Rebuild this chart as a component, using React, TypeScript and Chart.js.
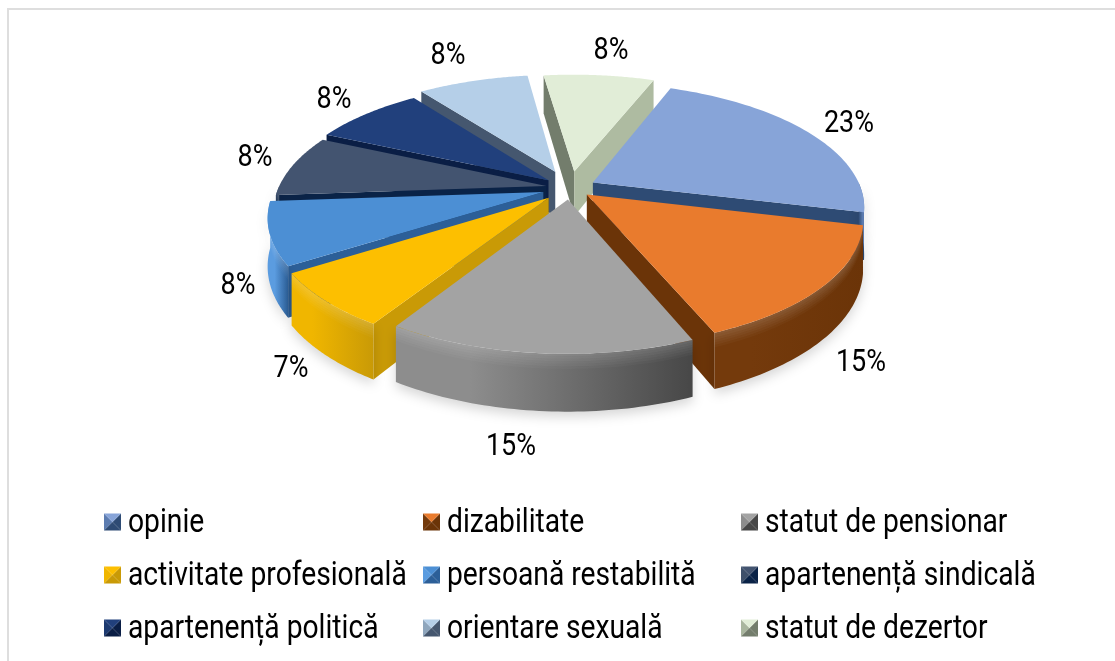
import React, { useEffect, useRef } from "react";
import { Chart, registerables } from "chart.js";

Chart.register(...registerables);

const categories = [
  "opinie",
  "dizabilitate",
  "statut de pensionar",
  "activitate profesională",
  "persoană restabilită",
  "apartenență sindicală",
  "apartenență politică",
  "orientare sexuală",
  "statut de dezertor",
];
const shares = [23, 15, 15, 7, 8, 8, 8, 8, 8];
const explode = [26, 22, 25, 30, 28, 24, 28, 40, 38];
const topColors = ["#87a4d8", "#e97b2d", "#a3a3a3", "#fdbf00", "#4c8fd4", "#435470", "#21407c", "#b5cfe8", "#e1edd7"];
const wallLight = ["#5c7cb0", "#743a0c", "#8d8d8d", "#f0b600", "#5b9ce0", "#3e506a", "#1d3a70", "#8fa6bd", "#a9b69e"];
const wallDark = ["#2e4b74", "#6b3408", "#474747", "#c99a06", "#2c5f98", "#0a2347", "#0a1e45", "#45576f", "#737d6c"];
const endWall = ["#2e4b74", "#6b3408", "#474747", "#c99a06", "#20497a", "#0a2347", "#0a1e45", "#45576f", "#aebba1"];
const labelPos = [
  [849, 124],
  [861, 363],
  [511, 447],
  [291, 369],
  [238, 286],
  [255, 158],
  [334, 100],
  [448, 56],
  [611, 51],
];
const legendCols = [104, 423, 741];
const legendRows = [522, 575, 628];

const CX = 570;
const CY = 188;
const R = 268;
const K = 0.45;
const P = 0.0007;
const DEPTH = 46;
const FAMILY = 'Roboto, "Liberation Sans", sans-serif';

function project(x: number, y: number, z: number): [number, number] {
  const f = 1 / (1 - y * P);
  return [CX + x * f, CY + y * K * f + z * f];
}

const pie3d = {
  id: "pie3d",
  beforeDatasetDraw(chart: any) {
    const ctx = chart.ctx;
    const meta = chart.getDatasetMeta(0);
    const items = meta.data.map((arc: any, i: number) => {
      const a0 = arc.startAngle + Math.PI / 2;
      const a1 = arc.endAngle + Math.PI / 2;
      const mid = (a0 + a1) / 2;
      const off = arc.options.offset;
      return { i, a0, a1, mid, ox: Math.sin(mid) * off, oy: -Math.cos(mid) * off };
    });
    items.sort((a: any, b: any) => -Math.cos(a.mid) - -Math.cos(b.mid));

    for (const s of items) {
      const pt = (a: number, r: number, z: number) =>
        project(s.ox + Math.sin(a) * r, s.oy - Math.cos(a) * r, z);
      const arcPts = (z: number) => {
        const out: [number, number][] = [];
        const n = 60;
        for (let j = 0; j <= n; j++) out.push(pt(s.a0 + ((s.a1 - s.a0) * j) / n, R, z));
        return out;
      };
      const poly = (pts: [number, number][], fill: any) => {
        ctx.beginPath();
        pts.forEach((p, j) => (j ? ctx.lineTo(p[0], p[1]) : ctx.moveTo(p[0], p[1])));
        ctx.closePath();
        ctx.fillStyle = fill;
        ctx.fill();
      };
      const apexT = pt(0, 0, 0);
      const apexB = pt(0, 0, DEPTH);
      if (-Math.sin(s.a0) > 0) {
        poly([apexT, pt(s.a0, R, 0), pt(s.a0, R, DEPTH), apexB], wallDark[s.i]);
      }
      if (Math.sin(s.a1) > 0) {
        poly([apexT, pt(s.a1, R, 0), pt(s.a1, R, DEPTH), apexB], endWall[s.i]);
      }
      const lo = Math.max(s.a0, Math.PI / 2);
      const hi = Math.min(s.a1, (3 * Math.PI) / 2);
      if (hi > lo) {
        const n = 50;
        const band = (z0: number, z1: number) => {
          const top: [number, number][] = [];
          const bot: [number, number][] = [];
          for (let j = 0; j <= n; j++) {
            const a = lo + ((hi - lo) * j) / n;
            top.push(pt(a, R, z0));
            bot.push(pt(a, R, z1));
          }
          return [...top, ...bot.reverse()] as [number, number][];
        };
        const strip = band(0, DEPTH);
        const g = ctx.createLinearGradient(strip[0][0], 0, strip[n][0], 0);
        g.addColorStop(0, wallDark[s.i]);
        g.addColorStop(0.75, wallLight[s.i]);
        g.addColorStop(1, wallLight[s.i]);
        ctx.save();
        ctx.shadowColor = "rgba(0,0,0,0.16)";
        ctx.shadowBlur = 12;
        ctx.shadowOffsetY = 5;
        poly(strip, g);
        ctx.restore();
        for (let z = 0; z < 12; z += 2) {
          poly(band(z, z + 2), `rgba(255,255,255,${(0.16 * (12 - z)) / 12})`);
        }
      }
      poly([apexT, ...arcPts(0)], topColors[s.i]);
    }
    return false;
  },
};

function pct(n: number, total: number) {
  return Math.round((n / total) * 100) + "%";
}

const textLayer = {
  id: "textLayer",
  afterDraw(chart: any) {
    const ctx = chart.ctx;
    const values: number[] = chart.data.datasets[0].data;
    const total = values.reduce((a, b) => a + b, 0);
    const squeezed = (t: string, x: number, y: number, align: CanvasTextAlign, size: number, sq: number) => {
      ctx.save();
      ctx.translate(x, y);
      ctx.scale(sq, 1);
      ctx.textAlign = align;
      ctx.textBaseline = "middle";
      ctx.font = `${size}px ${FAMILY}`;
      ctx.fillStyle = "#000";
      ctx.fillText(t, 0, 0);
      ctx.restore();
    };
    values.forEach((v, i) => squeezed(pct(v, total), labelPos[i][0], labelPos[i][1], "center", 31, 0.87));
    chart.data.labels.forEach((label: string, i: number) => {
      const x = legendCols[i % 3];
      const y = legendRows[Math.floor(i / 3)];
      const s = 17;
      const x0 = x;
      const y0 = y - s / 2;
      const m = [x0 + s / 2, y0 + s / 2];
      const tri = (a: number[], b: number[], c: string) => {
        ctx.beginPath();
        ctx.moveTo(a[0], a[1]);
        ctx.lineTo(b[0], b[1]);
        ctx.lineTo(m[0], m[1]);
        ctx.closePath();
        ctx.fillStyle = c;
        ctx.fill();
      };
      const tl = [x0, y0], tr = [x0 + s, y0], br = [x0 + s, y0 + s], bl = [x0, y0 + s];
      tri(tl, bl, wallLight[i]);
      tri(tr, br, wallDark[i]);
      tri(bl, br, wallDark[i]);
      tri(tl, tr, topColors[i]);
      squeezed(label, x + 24, y + 2, "left", 33, 0.855);
    });
  },
};

export default function App() {
  const ref = useRef<HTMLCanvasElement | null>(null);
  useEffect(() => {
    const chart = new Chart(ref.current as HTMLCanvasElement, {
      type: "pie",
      data: {
        labels: categories,
        datasets: [{ data: shares, offset: explode, backgroundColor: topColors, borderWidth: 0 }],
      },
      options: {
        responsive: false,
        animation: false,
        rotation: 21,
        layout: { padding: 0 },
        plugins: { legend: { display: false }, tooltip: { enabled: false } },
      },
      plugins: [pie3d, textLayer],
    } as any);
    return () => chart.destroy();
  }, []);
  return (
    <div style={{ position: "absolute", left: 0, top: 0, width: 1115, height: 661, background: "#fff", overflow: "hidden" }}>
      <div style={{ position: "absolute", left: 7, top: 8, width: 1120, height: 670, borderLeft: "2px solid #dedede", borderTop: "2px solid #dedede" }} />
      <canvas ref={ref} width={1115} height={661} style={{ position: "absolute", left: 0, top: 0, display: "block" }} />
    </div>
  );
}
